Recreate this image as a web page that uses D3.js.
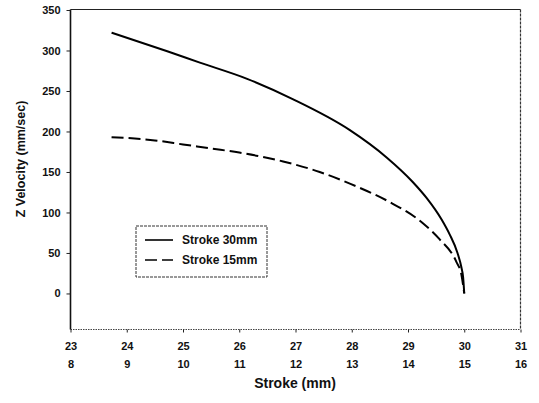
<!DOCTYPE html>
<html>
<head>
<meta charset="utf-8">
<script src="https://cdn.jsdelivr.net/npm/d3@7"></script>
<style>
  body { margin: 0; background: #fff; }
  svg { display: block; font-family: "Liberation Sans", Arial, sans-serif; }
  .tick-label { font-size: 11px; font-weight: bold; fill: #111; }
</style>
</head>
<body>
<div id="chart"></div>
<script>
// data
const stroke30X = [23.73, 24.72, 25.30, 26.14, 26.95, 27.96, 28.62, 29.08, 29.33, 29.60, 29.74, 29.88, 29.95, 29.98, 30.0];
const stroke30V = [322, 299, 285, 265, 240, 202, 168, 138, 118, 91, 73, 50, 32, 20, 0];

// the 15mm curve is plotted against the lower (8-16) scale
const stroke15X = [8.73, 9.5, 10.0, 10.5, 11.0, 11.78, 12.43, 13.09, 13.67, 14.26, 14.56, 14.86, 14.95, 15.0];
const stroke15V = [193, 189, 184, 179, 174, 163, 150, 132, 113, 87, 67, 39, 23, 0];

const topTicks = [23, 24, 25, 26, 27, 28, 29, 30, 31];
const bottomTicks = [8, 9, 10, 11, 12, 13, 14, 15, 16];
const yTicks = [0, 50, 100, 150, 200, 250, 300, 350];
const seriesNames = ['Stroke 30mm', 'Stroke 15mm'];

// CHART INIT ------------------------------------------------------------
const W = 539, H = 403;
const plotL = 70.5, plotR = 520.5, plotT = 9.5, plotB = 329.5;

const svg = d3.select('#chart')
  .append('svg')
  .attr('width', W)
  .attr('height', H);

const xScale = d3.scaleLinear().domain([23, 31]).range([plotL, plotR]);
const x2Scale = d3.scaleLinear().domain([8, 16]).range([plotL, plotR]);
const yScale = d3.scaleLinear().domain([-44.5, 350]).range([plotB, plotT + 0.5]);

// frame
svg.append('line').attr('x1', plotL).attr('x2', plotR).attr('y1', plotT).attr('y2', plotT)
  .attr('stroke', '#222').attr('stroke-width', 1.2);
svg.append('line').attr('x1', plotR).attr('x2', plotR).attr('y1', plotT).attr('y2', plotB)
  .attr('stroke', '#333').attr('stroke-width', 1.2).attr('stroke-dasharray', '3,1');
svg.append('line').attr('x1', plotL).attr('x2', plotR).attr('y1', plotB).attr('y2', plotB)
  .attr('stroke', '#444').attr('stroke-width', 1).attr('stroke-dasharray', '1.5,1');

// y axis
const yAxis = d3.axisLeft(yScale).tickValues(yTicks).tickSize(4).tickPadding(6);
const yg = svg.append('g')
  .attr('transform', 'translate(' + plotL + ',0)')
  .call(yAxis);
yg.select('.domain').attr('stroke', '#111').attr('stroke-width', 1.6)
  .attr('d', 'M0,' + plotT + 'V' + plotB);
yg.selectAll('.tick line').attr('stroke', '#222');
yg.selectAll('.tick text').attr('class', 'tick-label');

// x axis, two rows of labels
const xAxis = d3.axisBottom(xScale).tickValues(topTicks).tickSize(3).tickPadding(10);
const xg = svg.append('g')
  .attr('transform', 'translate(0,' + plotB + ')')
  .call(xAxis);
xg.select('.domain').remove();
xg.selectAll('.tick line').attr('stroke', '#222');
xg.selectAll('.tick text').attr('class', 'tick-label');

const x2Axis = d3.axisBottom(x2Scale).tickValues(bottomTicks).tickSize(0).tickPadding(31);
const x2g = svg.append('g')
  .attr('transform', 'translate(0,' + plotB + ')')
  .call(x2Axis);
x2g.select('.domain').remove();
x2g.selectAll('.tick text').attr('class', 'tick-label');

// axis titles
svg.append('text')
  .attr('x', 295).attr('y', 388)
  .attr('text-anchor', 'middle')
  .style('font-size', '14px').style('font-weight', 'bold').attr('fill', '#111')
  .text('Stroke (mm)');

svg.append('text')
  .attr('transform', 'translate(25,159) rotate(-90)')
  .attr('text-anchor', 'middle')
  .style('font-size', '12.5px').style('font-weight', 'bold').attr('fill', '#111')
  .text('Z Velocity (mm/sec)');

// lines
const line30 = d3.line()
  .x((d, i) => xScale(stroke30X[i]))
  .y(d => yScale(d))
  .curve(d3.curveMonotoneX);

const line15 = d3.line()
  .x((d, i) => x2Scale(stroke15X[i]))
  .y(d => yScale(d))
  .curve(d3.curveMonotoneX);

svg.append('path')
  .datum(stroke30V)
  .attr('d', line30)
  .attr('fill', 'none')
  .attr('stroke', '#000')
  .attr('stroke-width', 2);

svg.append('path')
  .datum(stroke15V)
  .attr('d', line15)
  .attr('fill', 'none')
  .attr('stroke', '#000')
  .attr('stroke-width', 2)
  .attr('stroke-dasharray', '12,5');

// legend
const legend = svg.append('g').attr('transform', 'translate(136,226)');
legend.append('rect')
  .attr('width', 131).attr('height', 51)
  .attr('fill', '#fff')
  .attr('stroke', '#333').attr('stroke-width', 1).attr('stroke-dasharray', '3,1');

seriesNames.forEach((name, i) => {
  const ly = 14 + i * 20;
  legend.append('line')
    .attr('x1', 9).attr('x2', 37).attr('y1', ly).attr('y2', ly)
    .attr('stroke', '#000').attr('stroke-width', 1.6)
    .attr('stroke-dasharray', i === 1 ? '12,5' : null);
  legend.append('text')
    .attr('x', 46).attr('y', ly + 4)
    .style('font-size', '12px').style('font-weight', 'bold').attr('fill', '#111')
    .text(name);
});
</script>
</body>
</html>
